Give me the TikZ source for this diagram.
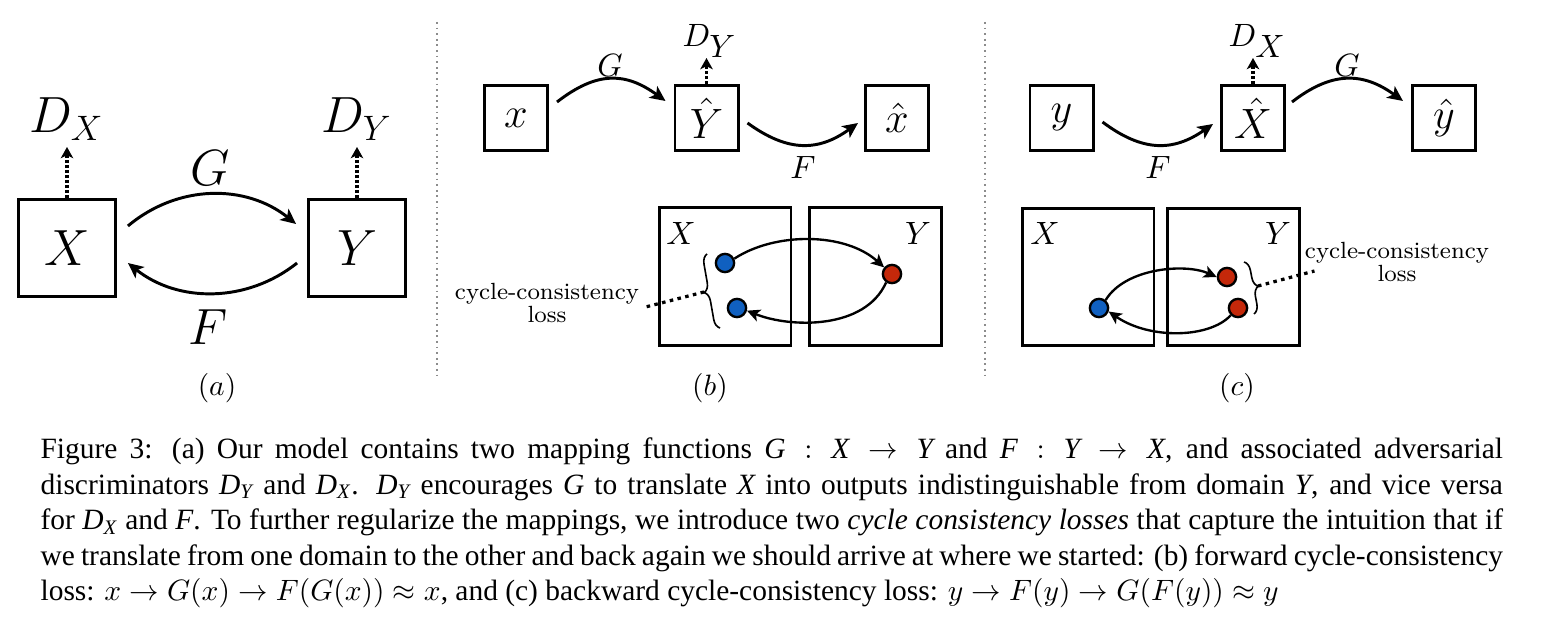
\documentclass[tikz,border=0pt]{standalone}
\usepackage{amsmath}
\usepackage{fontspec}
\newfontfamily\timesfont{Liberation Serif}
\usetikzlibrary{arrows.meta,decorations.pathreplacing}
\definecolor{dotblue}{RGB}{16,96,192}
\definecolor{dotred}{RGB}{196,40,10}
\newcommand{\fsz}[1]{\fontsize{#1}{#1}\selectfont}
\newcommand{\ti}[1]{\text{\timesfont\itshape #1}}
\begin{document}
\begin{tikzpicture}[x=0.3395pt,y=-0.3395pt,
  sqa/.style={draw,line width=1pt,minimum width=32.9pt,minimum height=32.9pt,inner sep=0pt,font={\fsz{18.4}}},
  sqb/.style={draw,line width=1pt,minimum width=21.4pt,minimum height=22.1pt,inner sep=0pt,font={\fsz{13.3}}},
  dom/.style={draw,line width=1pt,minimum width=44.8pt,minimum height=46.8pt,inner sep=0pt},
  dotnode/.style={circle,draw,line width=0.8pt,minimum size=6.2pt,inner sep=0pt},
  arr/.style={line width=1pt,-{Stealth[length=5.2pt,width=4.8pt,inset=1.3pt]}},
  arrs/.style={line width=0.8pt,-{Stealth[length=4.4pt,width=4.2pt,inset=1.1pt]}},
  dotarr/.style={line width=1.2pt,dash pattern=on 0.9pt off 0.8pt,-{Stealth[length=3.8pt,width=4.2pt,inset=1pt]}},
  lossdots/.style={line width=1.1pt,dash pattern=on 1.2pt off 1.5pt},
  divider/.style={black!45,line width=0.5pt,dash pattern=on 0.6pt off 1.3pt},
  brc/.style={decorate,decoration={brace,amplitude=3.2pt},line width=0.55pt},
  lbl/.style={inner sep=0pt}]
\fill[white] (0,0) rectangle (1542,617);
\useasboundingbox (0,0) rectangle (1542,617);

% ---------- (a)
\node[sqa] (XA) at (67,248) {$X$};
\node[sqa] (YA) at (357,248) {$Y$};
\node[lbl,anchor=base west,font={\fsz{16}}] (DXA) at (29,133) {$D_{\hbox{\fsz{13}$X$}}$};
\node[lbl,anchor=base west,font={\fsz{16}}] (DYA) at (321,133) {$D_{\hbox{\fsz{13}$Y$}}$};
\coordinate (dxa) at (67,147);
\coordinate (dya) at (357,147);
\draw[dotarr] (XA.north) -- (dxa);
\draw[dotarr] (YA.north) -- (dya);
\node[font={\fsz{17}}] (GA) at (210,168) {$G$};
\node[font={\fsz{17}}] (FA) at (208,327) {$F$};
\draw[arr] ([shift={(11,-22)}]XA.east) .. controls +(50,-42) and +(-50,-40) .. ([shift={(-11,-24)}]YA.west);
\draw[arr] ([shift={(-10,15)}]YA.west) .. controls +(-50,40) and +(50,40) .. ([shift={(11,15)}]XA.east);
\node[font={\fsz{10}}] (la) at (217,388) {$(a)$};

% dividers
\draw[divider] (437,22) -- (437,376);
\draw[divider] (985,22) -- (985,376);

% ---------- (b) top
\node[sqb] (xb) at (516,118) {$x$};
\node[sqb] (Yh) at (706.5,118) {$\hat{Y}$};
\node[sqb] (xh) at (897,118) {$\hat{x}$};
\draw[arr] ([shift={(8,-16)}]xb.east) .. controls +(40,-31) and +(-40,-29) .. ([shift={(-8,-17)}]Yh.west);
\draw[arr] ([shift={(8,5)}]Yh.east) .. controls +(40,29) and +(-40,29) .. ([shift={(-6,5)}]xh.west);
\node[font={\fsz{11.2}}] (GB) at (610,65) {$G$};
\node[font={\fsz{11.2}}] (FB) at (803,167) {$F$};
\node[lbl,anchor=base west,font={\fsz{11}}] (DYB) at (682,47) {$D_{\hbox{\fsz{10.5}$Y$}}$};
\coordinate (dyb) at (706.5,58);
\draw[dotarr] (Yh.north) -- (dyb);

% ---------- (b) bottom
\node[dom] (XB) at (725,276.5) {};
\node[dom] (YB) at (875.5,276.5) {};
\node[font={\fsz{11}}] (XBl) at (681,233) {$X$};
\node[font={\fsz{11}}] (YBl) at (918,233) {$Y$};
\node[dotnode,fill=dotblue] (b1) at (725,263) {};
\node[dotnode,fill=dotblue] (b2) at (737,308) {};
\node[dotnode,fill=dotred] (r1) at (892,274) {};
\draw[arrs] (b1.25) .. controls (775,232) and (845,232) .. (r1.140);
\draw[arrs] (r1.235) .. controls (865,330) and (790,328) .. (b2.-15);
\draw[brc] (720,328) -- (707,254);
\coordinate (bt1) at (704,292);
\node[font={\fsz{7.95}},align=center,inner sep=1pt] (cclb) at (547,303) {cycle-consistency\\loss};
\draw[lossdots] (bt1) -- ([shift={(3,4)}]cclb.east);
\node[font={\fsz{10}}] (lb) at (710,388) {$(b)$};

% ---------- (c) top
\node[sqb] (yc) at (1061.5,118) {$y$};
\node[sqb] (Xh) at (1253,118) {$\hat{X}$};
\node[sqb] (yh) at (1444,118) {$\hat{y}$};
\draw[arr] ([shift={(8,4)}]yc.east) .. controls +(40,30) and +(-40,28) .. ([shift={(-7,6)}]Xh.west);
\draw[arr] ([shift={(6,-16)}]Xh.east) .. controls +(40,-31) and +(-40,-29) .. ([shift={(-8,-17)}]yh.west);
\node[font={\fsz{11.2}}] (FC) at (1158,167) {$F$};
\node[font={\fsz{11.2}}] (GC) at (1347,65) {$G$};
\node[lbl,anchor=base west,font={\fsz{11}}] (DXC) at (1228,47) {$D_{\hbox{\fsz{10.5}$X$}}$};
\coordinate (dxc) at (1253,58);
\draw[dotarr] (Xh.north) -- (dxc);

% ---------- (c) bottom
\node[dom] (XC) at (1088,277) {};
\node[dom] (YC) at (1233.5,277) {};
\node[font={\fsz{11}}] (XCl) at (1045,233) {$X$};
\node[font={\fsz{11}}] (YCl) at (1278,233) {$Y$};
\node[dotnode,fill=dotblue] (bc) at (1099,308) {};
\node[dotnode,fill=dotred] (rc1) at (1227,277) {};
\node[dotnode,fill=dotred] (rc2) at (1238,308) {};
\draw[arrs] (bc.50) .. controls (1125,268) and (1185,263) .. (rc1.west);
\draw[arrs] (rc2.225) .. controls (1210,338) and (1150,340) .. (bc.-20);
\draw[brc] (1244,262) -- (1254,314);
\coordinate (bt2) at (1258,286);
\node[font={\fsz{7.95}},align=center,inner sep=1pt] (cccc) at (1397,262) {cycle-consistency\\loss};
\draw[lossdots] (bt2) -- ([shift={(13,9)}]cccc.west);
\node[font={\fsz{10}}] (lc) at (1237,388) {$(c)$};

% ---------- caption
\node[lbl,anchor=base west] (cap) at (40,459) {\parbox[t]{496.5pt}{\timesfont\fontsize{10}{12}\selectfont
Figure 3: (a) Our model contains two mapping functions $\ti{G} : \ti{X} \rightarrow \ti{Y}$ and $\ti{F} : \ti{Y} \rightarrow \ti{X}$, and associated adversarial\linebreak
discriminators $\ti{D}_{\ti{Y}}$ and $\ti{D}_{\ti{X}}$. $\ti{D}_{\ti{Y}}$ encourages $\ti{G}$ to translate $\ti{X}$ into outputs indistinguishable from domain $\ti{Y}$, and vice versa\linebreak
for $\ti{D}_{\ti{X}}$ and $\ti{F}$. To further regularize the mappings, we introduce two \textit{cycle consistency losses} that capture the intuition that if\linebreak
we translate from one domain to the other and back again we should arrive at where we started: (b) forward cycle-consistency\linebreak
loss: $x \rightarrow G(x) \rightarrow F(G(x)) \approx x$, and (c) backward cycle-consistency loss: $y \rightarrow F(y) \rightarrow G(F(y)) \approx y$}};
\end{tikzpicture}
\end{document}
